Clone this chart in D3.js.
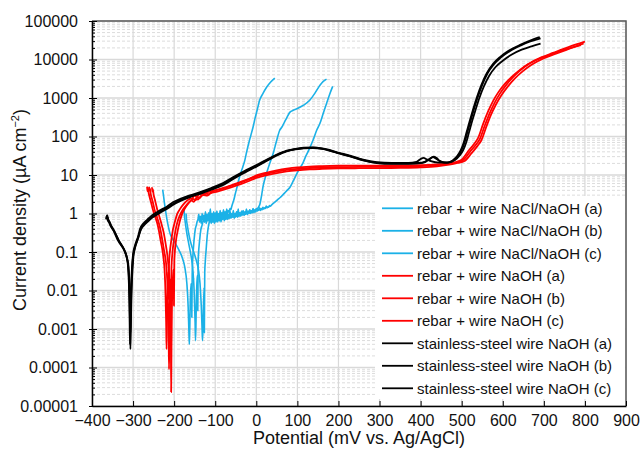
<!DOCTYPE html>
<html>
<head>
<meta charset="utf-8">
<script src="https://cdnjs.cloudflare.com/ajax/libs/d3/7.8.5/d3.min.js"></script>
<style>
  html, body { margin: 0; padding: 0; background: #fff; }
  svg { display: block; font-family: "Liberation Sans", Arial, sans-serif; }
</style>
</head>
<body>
<div id="chart"></div>
<script>
// potential (mV vs. Ag/AgCl), current density (uA cm-2)
const cyanA = [[-228,4.2],[-226,3],[-224,2],[-221,1.2],[-218,0.75],[-214,0.45],[-210,0.3],[-204,0.22],[-196,0.16],[-188,0.11],[-180,0.07],[-174,0.04],[-169,0.015],[-166,0.004],[-164,0.0008],[-163,0.0004],[-162,0.001],[-161,0.004],[-159,0.015],[-158,0.012],[-157,0.002],[-156,0.03],[-153,0.13],[-150,0.3],[-148,0.42],
  [-146,0.5],[-144,0.62],[-142,0.7],[-140,0.95],[-138,0.6],[-136,0.85],[-134,0.55],[-132,1.0],[-130,0.7],[-128,0.9],[-126,0.6],[-124,1.1],[-122,0.75],[-120,0.95],[-118,0.65],[-116,1.05],[-114,0.8],[-112,1.3],[-110,0.75],[-108,1.0],[-106,0.7],[-104,1.1],[-102,0.85],[-100,1.0],[-98,0.75],[-96,1.15],[-94,0.85],[-92,1.0],[-90,0.8],[-88,1.2],[-86,0.9],[-84,1.05],[-82,0.85],[-80,1.25],[-78,0.95],[-76,1.1],[-74,0.9],[-72,1.3],[-70,1.0],[-68,1.2],[-66,1.1],[-64,1.35],[-62,1.25],[-60,1.5],
  [-57,1.9],[-55,2.2],[-51,3.3],[-47,4.8],[-42,8],[-37,12],[-33,16],[-28,24],[-23,42],[-18,70],[-13,110],[-8,174],[-3,300],[2,480],[8,870],[16,1300],[25,1900],[35,2600],[45,3300]];
const cyanB = [[-176,1.3],[-175,0.9],[-173,0.6],[-170,0.35],[-166,0.2],[-162,0.12],[-158,0.07],[-154,0.03],[-151,0.008],[-149,0.0015],[-148,0.0005],[-147,0.0012],[-146,0.005],[-144,0.02],[-143,0.025],[-142.5,0.003],[-141.5,0.06],[-138,0.2],[-135,0.38],
  [-132,0.5],[-130,0.62],[-128,0.8],[-126,0.6],[-124,0.9],[-122,0.55],[-120,0.85],[-118,0.65],[-116,1.0],[-114,0.6],[-112,0.8],[-110,0.65],[-108,0.95],[-106,0.6],[-104,0.85],[-102,0.7],[-100,1.05],[-98,0.65],[-96,0.9],[-94,0.7],[-92,0.95],[-90,0.65],[-88,1.0],[-86,0.75],[-84,0.9],[-82,0.7],[-80,1.1],[-78,0.75],[-76,0.95],[-74,0.7],[-72,1.05],[-70,0.8],[-68,0.95],[-66,0.75],[-64,1.15],[-62,0.8],[-60,1.0],[-58,0.85],[-56,1.2],[-54,0.8],[-52,1.0],[-50,0.85],[-48,1.1],[-46,0.9],[-44,1.3],[-42,0.85],[-40,1.05],[-38,0.9],[-36,1.15],[-34,0.95],[-32,1.2],[-30,0.9],[-28,1.1],[-26,1.0],[-24,1.3],[-22,0.95],[-20,1.15],[-18,1.0],[-16,1.25],[-14,1.05],[-12,1.2],[-10,1.05],[-8,1.35],[-6,1.1],[-4,1.25],[-2,1.15],[0,1.35],[2,1.2],[4,1.4],[6,1.5],[9,1.8],
  [13,3],[16,4.8],[21,8],[27,13],[34,22],[41,36],[49,75],[57,145],[62,174],[68,230],[75,320],[82,430],[90,480],[101,540],[115,650],[130,870],[142,1300],[155,2150],[163,2700],[171,3100]];
const cyanC = [[-171,1.0],[-170,0.7],[-168,0.5],[-165,0.32],[-161,0.2],[-156,0.13],[-151,0.09],[-146,0.06],[-141,0.035],[-137,0.015],[-134,0.004],[-132,0.001],[-131,0.0005],[-130,0.0009],[-129,0.003],[-127,0.012],[-126.5,0.0008],[-125.5,0.03],[-124,0.06],[-122,0.12],[-119,0.3],
  [-116,0.5],[-114,0.62],[-112,0.75],[-110,0.55],[-108,0.8],[-106,0.6],[-104,0.85],[-102,0.55],[-100,0.75],[-98,0.6],[-96,0.9],[-94,0.6],[-92,0.8],[-90,0.65],[-88,0.95],[-86,0.6],[-84,0.8],[-82,0.7],[-80,1.0],[-78,0.65],[-76,0.85],[-74,0.7],[-72,0.95],[-70,0.7],[-68,0.9],[-66,0.75],[-64,1.05],[-62,0.75],[-60,0.9],[-58,0.8],[-56,1.0],[-54,0.75],[-52,0.95],[-50,0.8],[-48,1.1],[-46,0.8],[-44,0.95],[-42,0.85],[-40,1.05],[-38,0.85],[-36,1.0],[-34,0.9],[-32,1.15],[-30,0.9],[-28,1.05],[-26,0.95],[-24,1.2],[-22,0.95],[-20,1.1],[-18,1.0],[-16,1.25],[-14,1.0],[-12,1.15],[-10,1.05],[-8,1.3],[-6,1.05],[-4,1.2],[-2,1.1],[0,1.3],[2,1.15],[4,1.3],[6,1.2],[8,1.4],[10,1.2],[12,1.35],[14,1.25],[16,1.45],[18,1.3],[20,1.4],[22,1.35],[24,1.55],[26,1.4],[28,1.5],[30,1.45],[32,1.6],[34,1.55],
  [38,1.7],[42,1.85],[46,2.0],[52,2.3],[58,2.6],[64,3.0],[70,3.5],[76,4.1],[82,4.8],[90,7],[99,11],[106,15],[113,20],[120,30],[128,45],[138,80],[147,145],[155,220],[163,400],[171,720],[178,1200],[186,2000]];

const redA = [[-266,5],[-265,3.8],[-264,4.6],[-262,3.4],[-259,2.5],[-256,1.9],[-253,1.4],[-249,1.0],[-245,0.75],[-241,0.55],[-237,0.35],[-233,0.2],[-229,0.12],[-226,0.07],[-223,0.03],[-221,0.008],[-219.5,0.0015],[-218.5,0.0003],[-217.5,0.0012],[-216.5,0.006],[-215,0.02],[-214,0.03],[-213.5,0.006],[-212.5,0.05],[-210,0.11],[-207,0.2],[-203,0.38],[-198,0.62],[-193,0.95],[-186,1.3],[-178,1.7],[-170,2.1],[-162,2.4],[-156,2.5],[-150,2.9],[-145,2.7],[-140,3.1],[-132,3.3],[-125,3.2],[-118,3.6],[-100,4.0],[-81,4.5],[-60,5.3],[-40,6.3],[-20,7.6],[0,9.2],[26,10.8],[50,12.2],[74,13.5],[100,14.5],[130,15.2],[160,15.6],[200,16],[250,16.3],[300,16.3],[350,16.5],[400,17],[440,18],[470,19.5],[490,21.5],[503,24],[520,40],[535,62],[544,85],[556,190],[568,400],[580,750],[593,1300],[610,2300],[625,3500],[645,5500],[666,8000],[695,11500],[722,14800],[760,21000],[800,29000]];
const redB = [[-261,4.9],[-260,3.9],[-259,4.4],[-257,3.2],[-254,2.4],[-251,1.8],[-248,1.3],[-244,0.95],[-240,0.7],[-236,0.5],[-232,0.32],[-228,0.18],[-224,0.1],[-220,0.055],[-217,0.02],[-215,0.005],[-213.5,0.0009],[-212.5,0.00009],[-211.5,0.0006],[-210.5,0.004],[-209,0.015],[-208,0.02],[-207.5,0.003],[-206.5,0.04],[-204,0.1],[-201,0.19],[-197,0.35],[-192,0.6],[-186,0.9],[-179,1.25],[-171,1.6],[-164,1.95],[-158,2.2],[-152,2.0],[-147,2.5],[-142,2.3],[-136,2.8],[-128,3.0],[-120,2.9],[-112,3.3],[-95,3.7],[-78,4.2],[-58,4.9],[-38,5.8],[-18,7],[0,8.4],[26,9.9],[50,11.2],[74,12.4],[100,13.3],[130,14],[160,14.4],[200,14.8],[250,15],[300,15.1],[350,15.3],[400,15.8],[440,16.8],[470,18.5],[490,20.5],[507,23],[524,37],[539,58],[548,80],[560,180],[572,380],[584,700],[597,1200],[614,2100],[629,3200],[649,5000],[670,7300],[699,10600],[726,13700],[762,19000],[797,26000]];
const redC = [[-254,4.8],[-253,3.7],[-252,4.3],[-250,3.1],[-247,2.3],[-244,1.7],[-241,1.25],[-237,0.9],[-233,0.65],[-229,0.45],[-225,0.3],[-221,0.17],[-217,0.09],[-214,0.045],[-211,0.015],[-209,0.003],[-208,0.0006],[-207.3,0.000023],[-206.5,0.0003],[-205.5,0.003],[-204,0.012],[-202,0.035],[-201,0.02],[-200.5,0.004],[-199.5,0.06],[-196,0.18],[-192,0.33],[-187,0.58],[-181,0.95],[-174,1.35],[-167,1.75],[-160,2.1],[-154,2.4],[-148,2.2],[-143,2.7],[-138,2.5],[-132,3.0],[-124,3.3],[-116,3.2],[-108,3.7],[-92,4.2],[-75,4.8],[-55,5.7],[-35,6.8],[-15,8.2],[0,9.8],[26,11.6],[50,13.2],[74,14.6],[100,15.8],[130,16.6],[160,17],[200,17.4],[250,17.6],[300,17.6],[350,17.7],[400,18],[440,18.8],[470,20],[488,22],[500,25],[516,42],[531,66],[540,92],[552,210],[564,440],[576,820],[589,1400],[606,2400],[621,3500],[641,5300],[662,7600],[691,10700],[718,13600],[755,18500],[790,23500]];

const blackA = [[-366,0.7],[-364,0.85],[-362,0.68],[-359,0.6],[-355,0.48],[-349,0.38],[-343,0.28],[-337,0.2],[-331,0.16],[-325,0.13],[-320,0.1],[-316,0.075],[-313,0.05],[-311,0.025],[-309.5,0.008],[-308.5,0.002],[-307.5,0.0004],[-306.5,0.0015],[-305.5,0.006],[-304,0.02],[-302,0.05],[-300,0.09],[-296,0.14],[-292,0.19],[-288,0.25],[-283,0.4],[-275,0.55],[-266,0.68],[-255,0.88],[-242,1.08],[-230,1.28],[-218,1.5],[-203,1.95],[-185,2.4],[-162,2.95],[-137,3.6],[-110,4.6],[-81,6.2],[-57,8.7],[-30,12.5],[0,18],[25,25],[50,34],[74,43],[95,48],[115,51],[138,52],[160,49],[180,44],[196,39],[228,32],[260,25],[293,21.5],[330,20.5],[370,20.5],[390,22],[400,26],[407,28],[415,25.5],[425,23],[445,21],[463,21],[478,24],[490,32],[498,45],[505,70],[512,130],[520,263],[528,520],[537,1050],[548,2200],[561,4400],[576,7600],[593,11500],[615,17000],[641,23700],[665,30500],[690,38000]];
const blackB = [[-365,0.78],[-363,0.9],[-361,0.72],[-358,0.63],[-354,0.5],[-348,0.39],[-342,0.29],[-336,0.21],[-330,0.165],[-324,0.13],[-319,0.1],[-315,0.07],[-312,0.045],[-310,0.02],[-308.5,0.006],[-307.5,0.0012],[-306.5,0.0003],[-305.5,0.0009],[-304.5,0.004],[-303,0.015],[-301,0.04],[-299,0.08],[-295,0.13],[-291,0.18],[-287,0.24],[-282,0.37],[-274,0.52],[-265,0.64],[-254,0.82],[-241,1.0],[-229,1.2],[-217,1.4],[-202,1.8],[-184,2.25],[-161,2.8],[-136,3.4],[-109,4.4],[-80,5.9],[-56,8.3],[-29,12],[0,17],[25,24],[50,33],[74,42],[95,47],[115,50],[138,51],[160,48.5],[180,43],[196,38],[228,31],[260,24.5],[293,21],[330,20],[370,20],[395,20.5],[410,22],[422,26],[430,29],[437,27],[445,23.5],[455,21.5],[466,21],[480,24],[492,32],[500,45],[507,70],[514,130],[522,263],[530,520],[539,1050],[550,2200],[563,4400],[578,7500],[595,11200],[617,16500],[643,23000],[667,29500],[692,35500]];
const blackC = [[-364,0.75],[-362,0.8],[-360,0.66],[-357,0.58],[-353,0.46],[-347,0.36],[-341,0.27],[-335,0.2],[-329,0.155],[-323,0.12],[-318,0.092],[-314,0.065],[-311,0.04],[-309,0.016],[-307.5,0.004],[-306.5,0.0008],[-305.5,0.0025],[-304.5,0.008],[-303,0.025],[-301,0.06],[-298,0.1],[-294,0.15],[-290,0.2],[-286,0.27],[-281,0.38],[-273,0.5],[-264,0.62],[-253,0.78],[-240,0.96],[-228,1.15],[-216,1.35],[-201,1.72],[-183,2.15],[-160,2.7],[-135,3.3],[-108,4.2],[-79,5.6],[-55,8],[-28,11.5],[0,16.5],[25,23],[50,32],[74,41],[95,46],[115,49],[138,50],[160,48],[180,42.5],[196,37.5],[228,30.5],[260,24],[293,20.5],[330,19.5],[370,19.5],[395,20],[412,22],[424,27],[432,30],[439,27.5],[447,23],[457,21],[468,21],[483,24],[495,32],[504,45],[511,70],[518,130],[526,263],[534,500],[543,1000],[554,2000],[567,3800],[582,6300],[600,9300],[622,13500],[646,18000],[670,22000],[692,26000]];

const seriesNames = [
  "rebar + wire NaCl/NaOH (a)", "rebar + wire NaCl/NaOH (b)", "rebar + wire NaCl/NaOH (c)",
  "rebar + wire NaOH (a)", "rebar + wire NaOH (b)", "rebar + wire NaOH (c)",
  "stainless-steel wire NaOH (a)", "stainless-steel wire NaOH (b)", "stainless-steel wire NaOH (c)"
];
const seriesData = [cyanA, cyanB, cyanC, redA, redB, redC, blackA, blackB, blackC];
const seriesColors = ["#1bb1e7", "#1bb1e7", "#1bb1e7", "#ff0000", "#ff0000", "#ff0000", "#000000", "#000000", "#000000"];

const xTicks = [-400, -300, -200, -100, 0, 100, 200, 300, 400, 500, 600, 700, 800, 900];
const yTicks = [1e-5, 1e-4, 1e-3, 1e-2, 1e-1, 1, 10, 100, 1000, 10000, 100000];
const yTickLabels = ["0.00001", "0.0001", "0.001", "0.01", "0.1", "1", "10", "100", "1000", "10000", "100000"];

const w = 641, h = 460;
const pLeft = 92, pRight = 626, pTop = 21, pBottom = 406;

const svg = d3.select("#chart").append("svg")
    .attr("width", w)
    .attr("height", h);

const x = d3.scaleLinear().domain([-400, 900]).range([pLeft, pRight]);
const y = d3.scaleLog().domain([1e-5, 1e5]).range([pBottom, pTop]);

// minor values 2..9 in every decade
const yMinor = y.ticks(40).filter(d => Math.abs(Math.log10(d) - Math.round(Math.log10(d))) > 1e-6);

// grid
const grid = svg.append("g");
grid.selectAll(".hminor").data(yMinor).enter().append("line")
    .attr("x1", pLeft).attr("x2", pRight)
    .attr("y1", d => y(d)).attr("y2", d => y(d))
    .attr("stroke", "#dcdcdc").attr("stroke-width", 1)
    .attr("stroke-dasharray", "3,2");
grid.selectAll(".hmajor").data(yTicks).enter().append("line")
    .attr("x1", pLeft).attr("x2", pRight)
    .attr("y1", d => y(d)).attr("y2", d => y(d))
    .attr("stroke", "#d9d9d9").attr("stroke-width", 1.3);
grid.selectAll(".vmajor").data(xTicks).enter().append("line")
    .attr("x1", d => x(d)).attr("x2", d => x(d))
    .attr("y1", pTop).attr("y2", pBottom)
    .attr("stroke", "#d9d9d9").attr("stroke-width", 1.2);

// frame top/right
svg.append("path")
    .attr("d", `M${pLeft},${pTop}H${pRight}V${pBottom}`)
    .attr("fill", "none").attr("stroke", "#595959").attr("stroke-width", 1.5);

// curves
const line = d3.line()
    .x(d => x(d[0]))
    .y(d => y(d[1]))
    .curve(d3.curveMonotoneX);

svg.append("g").selectAll("path")
    .data(seriesData)
    .enter().append("path")
    .attr("d", line)
    .attr("fill", "none")
    .attr("stroke", (d, i) => seriesColors[i])
    .attr("stroke-width", (d, i) => i < 3 ? 1.6 : 1.8)
    .attr("stroke-linejoin", "round");

// axes
svg.append("g")
    .attr("transform", `translate(0,${pBottom})`)
    .call(d3.axisBottom(x).tickValues(xTicks).tickSize(-5).tickSizeOuter(0).tickPadding(9));

svg.append("g")
    .attr("transform", `translate(${pLeft},0)`)
    .call(d3.axisLeft(y).tickValues(yTicks).tickSize(-5).tickSizeOuter(0).tickPadding(14)
        .tickFormat((d, i) => yTickLabels[i]));

svg.append("g")
    .attr("transform", `translate(${pLeft},0)`)
    .call(d3.axisLeft(y).tickValues(yTicks).tickSize(3).tickSizeOuter(0).tickFormat(""))
    .select(".domain").remove();

svg.append("g")
    .attr("transform", `translate(${pLeft},0)`)
    .call(d3.axisLeft(y).tickValues(yMinor).tickSize(-3).tickSizeOuter(0).tickFormat(""))
    .select(".domain").remove();

svg.selectAll(".domain").attr("stroke", "#000").attr("stroke-width", 1.5);
svg.selectAll(".tick line").attr("stroke", "#000");
svg.selectAll(".tick text")
    .attr("font-family", "Liberation Sans, Arial, sans-serif")
    .attr("font-size", 16)
    .attr("fill", "#111");

// axis titles
svg.append("text")
    .attr("x", (pLeft + pRight) / 2)
    .attr("y", 444)
    .attr("text-anchor", "middle")
    .attr("font-size", 18)
    .attr("fill", "#111")
    .text("Potential (mV vs. Ag/AgCl)");

const yTitle = svg.append("text")
    .attr("transform", "translate(26,210) rotate(-90)")
    .attr("text-anchor", "middle")
    .attr("font-size", 18)
    .attr("fill", "#111");
yTitle.append("tspan").text("Current density (µA cm");
yTitle.append("tspan").attr("font-size", 11).attr("dy", -7).text("−2");
yTitle.append("tspan").attr("dy", 7).text(")");

// legend
const legend = svg.append("g");
legend.append("rect")
    .attr("x", 375).attr("y", 196)
    .attr("width", 250).attr("height", 203)
    .attr("fill", "#fff");

const items = legend.selectAll(".item")
    .data(seriesNames)
    .enter().append("g")
    .attr("transform", (d, i) => `translate(0,${208.3 + i * 22.5})`);

items.append("line")
    .attr("x1", 382).attr("x2", 413)
    .attr("stroke", (d, i) => seriesColors[i])
    .attr("stroke-width", 1.8);

items.append("text")
    .attr("x", 417)
    .attr("dy", "0.36em")
    .attr("font-size", 15)
    .attr("fill", "#111")
    .text(d => d);
</script>
</body>
</html>
